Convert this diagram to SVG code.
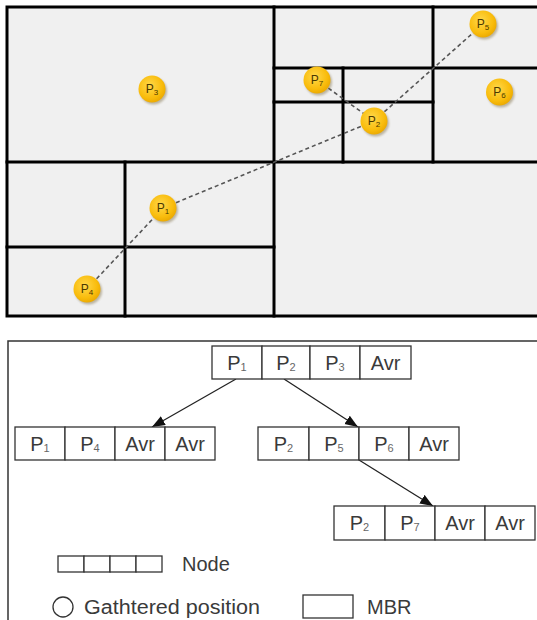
<svg xmlns="http://www.w3.org/2000/svg" width="537" height="620" viewBox="0 0 537 620">
<style>
  .grid { stroke: #000; stroke-width: 3; fill: none; stroke-linecap: square; }
  .cell { fill: #fff; stroke: #333; stroke-width: 1.3; }
  .txt { font-family: "Liberation Sans", Arial, sans-serif; font-size: 20px; fill: #3a3a3a; text-anchor: middle; }
  .sub { font-size: 11px; fill: #666; }
  .lg { font-family: "Liberation Sans", Arial, sans-serif; font-size: 20px; fill: #3a3a3a; }
  .path { stroke: #555; stroke-width: 1.6; stroke-dasharray: 4 3; fill: none; }
  .dot { fill: url(#gold); }
  .shadow { fill: #7a6a40; opacity: 0.45; filter: url(#blur); }
  .plab { font-family: "Liberation Sans", Arial, sans-serif; font-size: 12px; fill: #4a3800; text-anchor: middle; }
  .psub { font-size: 8px; }
  .arrow { stroke: #222; stroke-width: 1.3; fill: none; marker-end: url(#ah); }
</style>
<defs>
  <radialGradient id="gold" cx="0.42" cy="0.38" r="0.65">
    <stop offset="0" stop-color="#FFD84A"/>
    <stop offset="0.7" stop-color="#F9BC0C"/>
    <stop offset="1" stop-color="#EAA800"/>
  </radialGradient>
  <filter id="blur" x="-50%" y="-50%" width="200%" height="200%">
    <feGaussianBlur stdDeviation="1.2"/>
  </filter>
  <marker id="ah" markerUnits="userSpaceOnUse" markerWidth="14" markerHeight="11" refX="13" refY="5" orient="auto">
    <path d="M0,0 L13,5 L0,10 z" fill="#111"/>
  </marker>
</defs>

<!-- Top panel: MBR plan -->
<g id="mbr-plan">
  <rect x="7" y="7" width="535" height="309" fill="#f0f0f0"/>
  <rect class="grid" x="7" y="7" width="535" height="309"/>
  <line class="grid" x1="274" y1="7" x2="274" y2="316"/>
  <line class="grid" x1="7" y1="162" x2="537" y2="162"/>
  <line class="grid" x1="125" y1="162" x2="125" y2="316"/>
  <line class="grid" x1="7" y1="247" x2="274" y2="247"/>
  <line class="grid" x1="433" y1="7" x2="433" y2="162"/>
  <line class="grid" x1="274" y1="68" x2="537" y2="68"/>
  <line class="grid" x1="274" y1="102" x2="433" y2="102"/>
  <line class="grid" x1="343" y1="68" x2="343" y2="162"/>
</g>

<g id="paths">
  <line class="path" x1="87" y1="289" x2="163" y2="208"/>
  <line class="path" x1="163" y1="208" x2="374" y2="121"/>
  <line class="path" x1="374" y1="121" x2="483" y2="24"/>
  <line class="path" x1="317" y1="80" x2="374" y2="121"/>
</g>

<g id="pt-P3"><circle class="shadow" cx="153.5" cy="91" r="13.5"/><circle class="dot" cx="152" cy="89" r="13.5"/><text class="plab" x="152" y="93">P<tspan class="psub" dy="2">3</tspan></text></g>
<g id="pt-P5"><circle class="shadow" cx="484.5" cy="26" r="13.5"/><circle class="dot" cx="483" cy="24" r="13.5"/><text class="plab" x="483" y="28">P<tspan class="psub" dy="2">5</tspan></text></g>
<g id="pt-P7"><circle class="shadow" cx="318.5" cy="82" r="13.5"/><circle class="dot" cx="317" cy="80" r="13.5"/><text class="plab" x="317" y="84">P<tspan class="psub" dy="2">7</tspan></text></g>
<g id="pt-P2"><circle class="shadow" cx="375.5" cy="123" r="13.5"/><circle class="dot" cx="374" cy="121" r="13.5"/><text class="plab" x="374" y="125">P<tspan class="psub" dy="2">2</tspan></text></g>
<g id="pt-P6"><circle class="shadow" cx="501" cy="94" r="13.5"/><circle class="dot" cx="499.5" cy="92" r="13.5"/><text class="plab" x="499.5" y="96">P<tspan class="psub" dy="2">6</tspan></text></g>
<g id="pt-P1"><circle class="shadow" cx="164.5" cy="210" r="13.5"/><circle class="dot" cx="163" cy="208" r="13.5"/><text class="plab" x="163" y="212">P<tspan class="psub" dy="2">1</tspan></text></g>
<g id="pt-P4"><circle class="shadow" cx="88.5" cy="291" r="13.5"/><circle class="dot" cx="87" cy="289" r="13.5"/><text class="plab" x="87" y="293">P<tspan class="psub" dy="2">4</tspan></text></g>

<!-- Bottom panel -->
<rect x="8" y="341" width="540" height="290" fill="none" stroke="#333" stroke-width="1.5"/>

<g id="connectors">
  <line class="arrow" x1="236" y1="379" x2="152" y2="427"/>
  <line class="arrow" x1="284" y1="379" x2="358" y2="427"/>
  <line class="arrow" x1="359" y1="460" x2="433" y2="506"/>
</g>

<g id="node-root">
  <rect class="cell" x="212" y="346" width="50" height="33"/>
  <rect class="cell" x="262" y="346" width="48" height="33"/>
  <rect class="cell" x="310" y="346" width="50" height="33"/>
  <rect class="cell" x="360" y="346" width="51" height="33"/>
  <text class="txt" x="237" y="369.5">P<tspan class="sub" dy="1">1</tspan></text>
  <text class="txt" x="286" y="369.5">P<tspan class="sub" dy="1">2</tspan></text>
  <text class="txt" x="335" y="369.5">P<tspan class="sub" dy="1">3</tspan></text>
  <text class="txt" x="385.5" y="369.5">Avr</text>
</g>

<g id="node-left">
  <rect class="cell" x="15" y="427" width="50" height="33"/>
  <rect class="cell" x="65" y="427" width="50" height="33"/>
  <rect class="cell" x="115" y="427" width="50" height="33"/>
  <rect class="cell" x="165" y="427" width="50" height="33"/>
  <text class="txt" x="40" y="450.5">P<tspan class="sub" dy="1">1</tspan></text>
  <text class="txt" x="90" y="450.5">P<tspan class="sub" dy="1">4</tspan></text>
  <text class="txt" x="140" y="450.5">Avr</text>
  <text class="txt" x="190" y="450.5">Avr</text>
</g>

<g id="node-right">
  <rect class="cell" x="258" y="427" width="51" height="33"/>
  <rect class="cell" x="309" y="427" width="50" height="33"/>
  <rect class="cell" x="359" y="427" width="50" height="33"/>
  <rect class="cell" x="409" y="427" width="50" height="33"/>
  <text class="txt" x="283.5" y="450.5">P<tspan class="sub" dy="1">2</tspan></text>
  <text class="txt" x="334" y="450.5">P<tspan class="sub" dy="1">5</tspan></text>
  <text class="txt" x="384" y="450.5">P<tspan class="sub" dy="1">6</tspan></text>
  <text class="txt" x="434" y="450.5">Avr</text>
</g>

<g id="node-child">
  <rect class="cell" x="334" y="506" width="51" height="34"/>
  <rect class="cell" x="385" y="506" width="50" height="34"/>
  <rect class="cell" x="435" y="506" width="50" height="34"/>
  <rect class="cell" x="485" y="506" width="50" height="34"/>
  <text class="txt" x="359.5" y="530">P<tspan class="sub" dy="1">2</tspan></text>
  <text class="txt" x="410" y="530">P<tspan class="sub" dy="1">7</tspan></text>
  <text class="txt" x="460" y="530">Avr</text>
  <text class="txt" x="510" y="530">Avr</text>
</g>

<g id="legend-node">
  <rect class="cell" x="58" y="556" width="26" height="16"/>
  <rect class="cell" x="84" y="556" width="26" height="16"/>
  <rect class="cell" x="110" y="556" width="26" height="16"/>
  <rect class="cell" x="136" y="556" width="26" height="16"/>
  <text class="lg" x="182" y="571">Node</text>
</g>

<g id="legend-gathered">
  <circle cx="63" cy="607" r="10" fill="#fff" stroke="#333" stroke-width="1.3"/>
  <text class="lg" x="84" y="614" textLength="176" lengthAdjust="spacingAndGlyphs">Gathtered position</text>
</g>

<g id="legend-mbr">
  <rect class="cell" x="303" y="595" width="50" height="23"/>
  <text class="lg" x="367" y="614">MBR</text>
</g>
</svg>
